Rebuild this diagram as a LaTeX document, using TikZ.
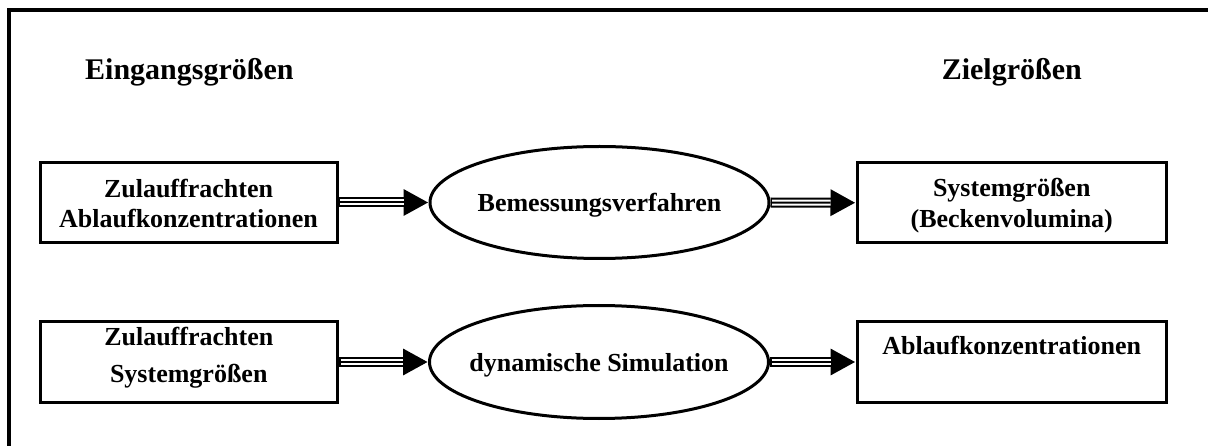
\documentclass[tikz,border=0pt]{standalone}
\usepackage{fontspec}
\setmainfont{Liberation Serif}
\usetikzlibrary{arrows.meta,shapes.geometric}
\tikzset{
 boxst/.style={draw,line width=3pt,rectangle,inner sep=0pt},
 ellst/.style={draw,ellipse,line width=3pt,inner sep=0pt,minimum width=339pt,
   font=\fontsize{26}{30}\selectfont\bfseries,text height=19pt,text depth=0pt},
 txt/.style={font=\fontsize{26}{30}\selectfont\bfseries,anchor=base,inner sep=0pt},
 ttl/.style={font=\fontsize{30}{34}\selectfont\bfseries,inner sep=0pt},
 tripthick/.style={line width=10pt,-{Triangle[length=25pt,width=25pt]}},
 tripwhite/.style={white,line width=6pt,shorten >=25pt,shorten <=1.5pt},
 tripthin/.style={line width=2pt,shorten >=25pt,shorten <=1.5pt},
 frame/.style={line width=4pt}
}
\newcommand\tripleconn[2]{%
 \draw[tripthick] (#1) -- (#2);
 \draw[tripwhite] (#1) -- (#2);
 \draw[tripthin] (#1) -- (#2);}
\begin{document}
\begin{tikzpicture}[x=1pt,y=-1pt]
\clip (0,0) rectangle (1208,446);
\fill[white] (0,0) rectangle (1208,446);
\draw[frame] (8.7,10.5) rectangle (1240,480);

\node[ttl,anchor=base west] (tin) at (85,80) {Eingangsgrößen};
\node[ttl,anchor=base east] (tout) at (1082,80) {Zielgrößen};

\node[boxst,minimum width=297pt,minimum height=80pt] (b1) at (188.5,202.5) {};
\node[boxst,minimum width=309.5pt,minimum height=80.5pt] (b3) at (1011.75,202.75) {};
\node[boxst,minimum width=297.5pt,minimum height=80pt] (b2) at (188.75,362) {};
\node[boxst,minimum width=309.5pt,minimum height=80pt] (b4) at (1011.75,362) {};

\node[txt] (b1a) at (188.5,198) {Zulauffrachten};
\node[txt] (b1b) at (188.5,228) {Ablaufkonzentrationen};
\node[txt] (b3a) at (1011.75,197) {Systemgrößen};
\node[txt] (b3b) at (1011.75,228) {(Beckenvolumina)};
\node[txt] (b2a) at (188.75,346) {Zulauffrachten};
\node[txt] (b2b) at (188.75,382) {Systemgrößen};
\node[txt] (b4a) at (1011.75,355) {Ablaufkonzentrationen};

\node[ellst,minimum height=112pt] (e1) at (599.5,202.5) {\makebox[0pt]{Bemessungsverfahren}};
\node[ellst,minimum height=113pt,text height=18pt] (e2) at (599,362) {\makebox[0pt]{dynamische Simulation}};

\tripleconn{b1.east}{e1.west}
\tripleconn{e1.east}{b3.west}
\tripleconn{b2.east}{e2.west}
\tripleconn{e2.east}{b4.west}
\end{tikzpicture}
\end{document}
